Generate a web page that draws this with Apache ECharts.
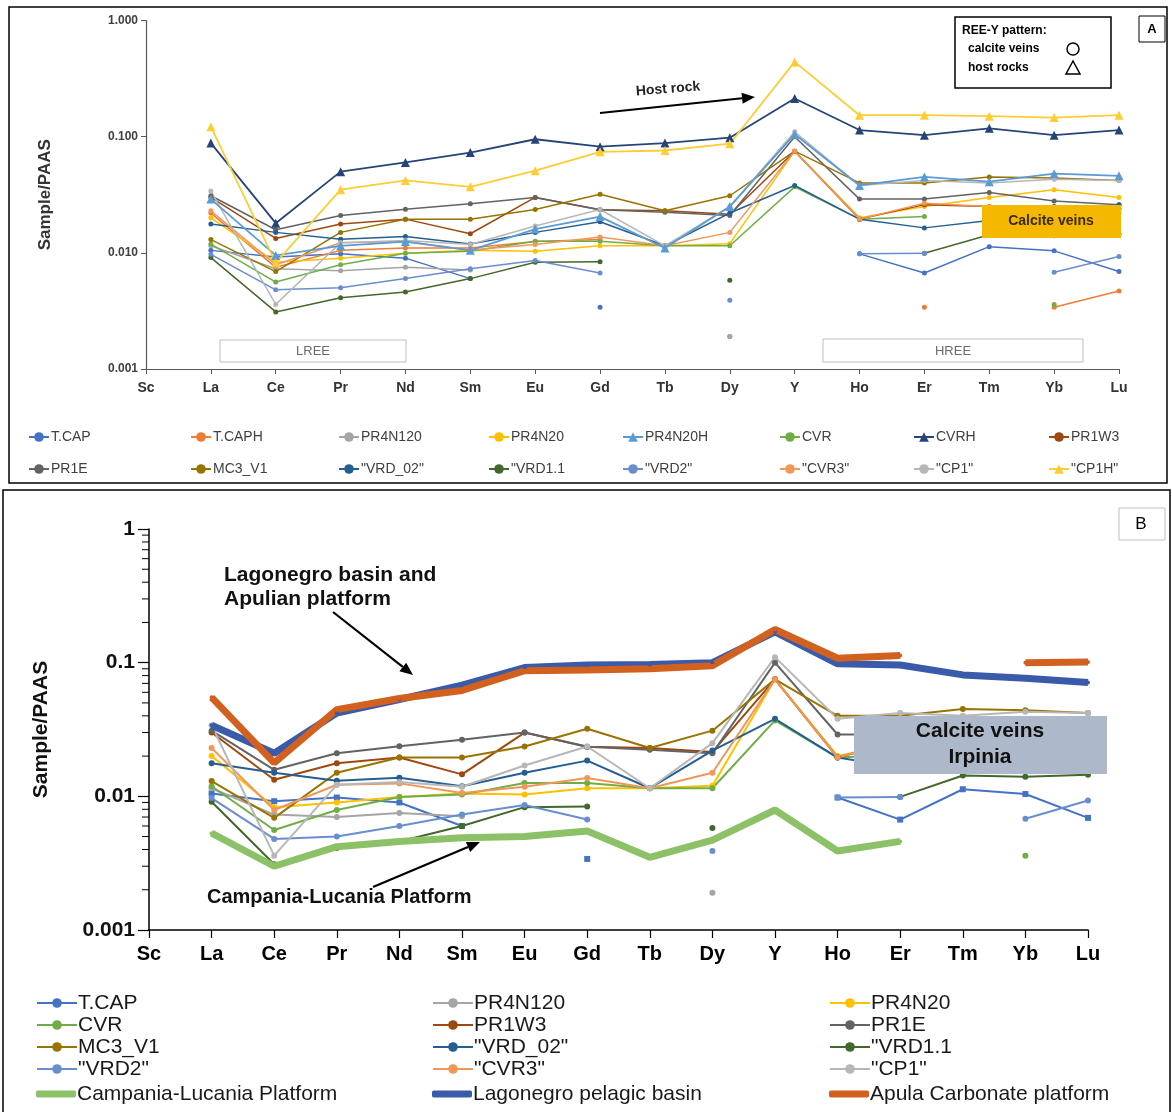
<!DOCTYPE html>
<html><head><meta charset="utf-8">
<script src="https://cdn.jsdelivr.net/npm/echarts@6/dist/echarts.min.js"></script>
<style>html,body{margin:0;padding:0;background:#fff}#c{width:1172px;height:1112px}</style>
</head><body><div id="c"></div><script>
// ---------------- DATA ----------------
const categories = ['Sc','La','Ce','Pr','Nd','Sm','Eu','Gd','Tb','Dy','Y','Ho','Er','Tm','Yb','Lu'];
const yTicksA = ['0.001','0.010','0.100','1.000'];
const yTicksB = ['0.001','0.01','0.1','1'];
const minorTicksB = [0.002,0.003,0.004,0.005,0.006,0.007,0.008,0.009,0.02,0.03,0.04,0.05,0.06,0.07,0.08,0.09,0.2,0.3,0.4,0.5,0.6,0.7,0.8,0.9];

// calcite veins (Sc, La, Ce, Pr, Nd, Sm, Eu, Gd, Tb, Dy, Y, Ho, Er, Tm, Yb, Lu)
const tCap    = [null,0.0105,0.0092,0.0098,0.0090,0.0060,null,0.0034,null,null,null,0.0098,0.0067,0.0113,0.0104,0.0069];
const pr4n120 = [null,0.0115,0.0073,0.0070,0.0075,0.0071,null,null,null,0.0019,null,null,null,null,null,null];
const pr4n20  = [null,0.020,0.0083,0.0090,0.0099,0.0105,0.0103,0.0115,0.0115,0.0120,0.075,0.0200,0.025,0.030,0.035,0.030];
const cvr     = [null,0.0119,0.0056,0.0079,0.0099,0.0103,0.0126,0.0126,0.0115,0.0115,0.037,0.0195,0.0205,null,0.0036,null];
const pr1w3   = [null,0.030,0.0133,0.0177,0.0195,0.0146,0.030,0.0235,0.0230,0.0215,0.075,0.0195,0.026,0.025,0.025,0.024];
const pr1e    = [null,0.031,0.0158,0.021,0.0237,0.0265,0.030,0.0235,0.0223,0.021,0.100,0.029,0.029,0.033,0.028,0.026];
const mc3v1   = [null,0.013,0.0069,0.0150,0.0195,0.0195,0.0236,0.032,0.023,0.031,0.075,0.040,0.040,0.045,0.044,0.042];
const vrd02   = [null,0.0177,0.0150,0.0131,0.0138,0.0119,0.0150,0.0185,0.0115,0.0220,0.038,0.0195,0.0164,0.019,0.020,0.026];
const vrd11   = [null,0.0091,0.0031,0.0041,0.0046,0.0060,0.0083,0.0084,null,0.0058,null,null,0.0099,0.0143,0.0140,0.0145];
const vrd2    = [null,0.0097,0.0048,0.0050,0.0060,0.0073,0.0086,0.0067,null,0.0039,null,0.0098,0.0099,null,0.0068,0.0093];
const cvr3    = [null,0.023,0.0079,0.0122,0.0125,0.0106,0.0118,0.0137,0.0115,0.0150,0.075,0.0195,0.0267,0.025,0.023,0.022];
const cp1     = [null,0.034,0.0036,0.0122,0.0128,0.0118,0.0170,0.0236,0.0115,0.025,0.110,0.038,0.042,0.040,0.043,0.042];
// host rocks (panel A)
const tCapH   = [null,0.022,0.0075,0.0105,0.011,0.011,0.0125,0.013,null,0.0019,null,null,0.0034,null,0.0034,0.0047];
const pr4n20H = [null,0.029,0.0095,0.0115,0.0125,0.0105,0.016,0.0205,0.011,0.025,0.105,0.038,0.045,0.041,0.048,0.046];
const cvrH    = [null,0.088,0.018,0.050,0.060,0.073,0.095,0.082,0.088,0.098,0.213,0.114,0.103,0.118,0.103,0.114];
const cp1H    = [null,0.122,0.0082,0.035,0.042,0.037,0.051,0.074,0.076,0.087,0.44,0.153,0.153,0.150,0.146,0.153];
// reference fields (panel B)
const campania  = [null,0.0053,0.0030,0.0042,0.0046,0.0049,0.0050,0.0055,0.0035,0.0047,0.0079,0.0039,0.0046,null,null,null];
const lagonegro = [null,0.034,0.021,0.042,0.053,0.068,0.092,0.096,0.097,0.100,0.170,0.098,0.096,0.081,0.0765,0.071];
const apula     = [null,0.055,0.0178,0.0445,0.054,0.062,0.087,0.088,0.090,0.095,0.177,0.108,0.113,null,0.100,0.101];

// ---------------- SERIES TABLES ----------------
const seriesA = [
  ['T.CAP', tCap, '#4472C4', 'circle'],
  ['T.CAPH', tCapH, '#ED7D31', 'circle'],
  ['PR4N120', pr4n120, '#A5A5A5', 'circle'],
  ['PR4N20', pr4n20, '#FFC000', 'circle'],
  ['PR4N20H', pr4n20H, '#5B9BD5', 'triangle'],
  ['CVR', cvr, '#70AD47', 'circle'],
  ['CVRH', cvrH, '#264478', 'triangle'],
  ['PR1W3', pr1w3, '#9E480E', 'circle'],
  ['PR1E', pr1e, '#636363', 'circle'],
  ['MC3_V1', mc3v1, '#997300', 'circle'],
  ['"VRD_02"', vrd02, '#255E91', 'circle'],
  ['"VRD1.1', vrd11, '#43682B', 'circle'],
  ['"VRD2"', vrd2, '#698ED0', 'circle'],
  ['"CVR3"', cvr3, '#F1975A', 'circle'],
  ['"CP1"', cp1, '#B7B7B7', 'circle'],
  ['"CP1H"', cp1H, '#FFCD33', 'triangle']
];
const seriesB = [
  ['T.CAP', tCap, '#4472C4', 'rect'],
  ['PR4N120', pr4n120, '#A5A5A5', 'circle'],
  ['PR4N20', pr4n20, '#FFC000', 'circle'],
  ['CVR', cvr, '#70AD47', 'circle'],
  ['PR1W3', pr1w3, '#9E480E', 'circle'],
  ['PR1E', pr1e, '#636363', 'circle'],
  ['MC3_V1', mc3v1, '#997300', 'circle'],
  ['"VRD_02"', vrd02, '#255E91', 'circle'],
  ['"VRD1.1', vrd11, '#43682B', 'circle'],
  ['"VRD2"', vrd2, '#698ED0', 'circle'],
  ['"CVR3"', cvr3, '#F1975A', 'circle'],
  ['"CP1"', cp1, '#B7B7B7', 'circle']
];
const thickB = [
  ['Campania-Lucania Platform', campania, '#8CC168'],
  ['Lagonegro pelagic basin', lagonegro, '#3A5BAA'],
  ['Apula Carbonate platform', apula, '#D2601F']
];

const sans = "'Liberation Sans',Arial,sans-serif";

const series = [];
seriesA.forEach(([name, data, color, sym]) => {
  const host = sym === 'triangle';
  series.push({type:'line', name, data, xAxisIndex:0, yAxisIndex:0, symbol:sym, symbolSize: host?9:5,
    showAllSymbol:true, connectNulls:false, animation:false,
    lineStyle:{color, width: host?1.8:1.5}, itemStyle:{color}, z: host?4:3});
});
seriesB.forEach(([name, data, color, sym]) => {
  series.push({type:'line', name, data, xAxisIndex:1, yAxisIndex:1, symbol:sym, symbolSize:6,
    showAllSymbol:true, connectNulls:false, animation:false,
    lineStyle:{color, width:2}, itemStyle:{color}, z:3});
});
thickB.forEach(([name, data, color]) => {
  series.push({type:'line', name, data, xAxisIndex:1, yAxisIndex:1, symbol:'circle', symbolSize:4,
    showAllSymbol:true, connectNulls:false, animation:false,
    lineStyle:{color, width:7}, itemStyle:{color}, z:4});
});
series.push({type:'custom', xAxisIndex:1, yAxisIndex:1, silent:true, animation:false, clip:false,
  data: minorTicksB.map(v => [0, v]),
  renderItem: (p, api) => { const c = api.coord([api.value(0), api.value(1)]);
    return {type:'line', shape:{x1:c[0]-7, y1:c[1], x2:c[0], y2:c[1]}, style:{stroke:'#000', lineWidth:1}}; }
});

// ---------------- LEGENDS ----------------
const legends = [];
const colXA = [28, 190, 338, 488, 622, 779, 913, 1048];
for (let i = 0; i < 8; i++) {
  legends.push({data:[seriesA[i][0], seriesA[i+8][0]], orient:'vertical', left:colXA[i], top:429, padding:0,
    itemWidth:20, itemHeight:12, itemGap:16, selectedMode:false,
    textStyle:{fontFamily:sans, fontSize:14, lineHeight:16, color:'#404040', padding:[0,0,0,-3]}});
}
const legendRowsB = [
  ['T.CAP','PR4N120','PR4N20'],
  ['CVR','PR1W3','PR1E'],
  ['MC3_V1','"VRD_02"','"VRD1.1'],
  ['"VRD2"','"CVR3"','"CP1"'],
  ['Campania-Lucania Platform','Lagonegro pelagic basin','Apula Carbonate platform']
];
const colXB = [36, 432, 829];
legendRowsB.forEach((row, r) => row.forEach((name, c) => {
  const thick = r === 4;
  legends.push({data: thick ? [{name, icon:'roundRect'}] : [name], orient:'horizontal',
    left:colXB[c], top:992 + r*22 + (thick ? 3 : 0), padding:0,
    itemWidth:40, itemHeight: thick ? 7 : 12, selectedMode:false,
    textStyle:{fontFamily:sans, fontSize:21, lineHeight:22, color:'#1a1a1a', padding:[0,0,0,-4]}});
}));

// ---------------- GRAPHICS ----------------
function arrow(x1, y1, x2, y2, w) {
  const a = Math.atan2(y2-y1, x2-x1), L = 13, h = 5.5;
  const bx = x2 - L*Math.cos(a), by = y2 - L*Math.sin(a);
  return [
    {type:'line', shape:{x1, y1, x2:bx, y2:by}, style:{stroke:'#000', lineWidth:w}, z:50},
    {type:'polygon', shape:{points:[[x2,y2],[bx - h*Math.sin(a), by + h*Math.cos(a)],[bx + h*Math.sin(a), by - h*Math.cos(a)]]}, style:{fill:'#000'}, z:50}
  ];
}
const graphics = [
  {type:'rect', shape:{x:9, y:7, width:1158, height:476}, style:{fill:null, stroke:'#000', lineWidth:1.5}, z:60},
  {type:'rect', shape:{x:3, y:490, width:1167, height:630}, style:{fill:null, stroke:'#000', lineWidth:1.5}, z:60},
  // panel A annotations
  {type:'rect', shape:{x:1139, y:16, width:26, height:26}, style:{fill:'#fff', stroke:'#000', lineWidth:1}, z:50},
  {type:'text', x:1152, y:29, style:{text:'A', font:'bold 13px '+sans, fill:'#000', align:'center', verticalAlign:'middle'}, z:51},
  {type:'rect', shape:{x:955, y:17, width:156, height:71}, style:{fill:'#fff', stroke:'#000', lineWidth:1.5}, z:50},
  {type:'text', x:962, y:31, style:{text:'REE-Y pattern:', font:'bold 12px '+sans, fill:'#000', verticalAlign:'middle'}, z:51},
  {type:'text', x:968, y:49, style:{text:'calcite veins', font:'bold 12px '+sans, fill:'#000', verticalAlign:'middle'}, z:51},
  {type:'text', x:968, y:68, style:{text:'host rocks', font:'bold 12px '+sans, fill:'#000', verticalAlign:'middle'}, z:51},
  {type:'circle', shape:{cx:1073, cy:49, r:6}, style:{fill:null, stroke:'#000', lineWidth:1.5}, z:51},
  {type:'polygon', shape:{points:[[1073,61],[1066,74],[1080,74]]}, style:{fill:null, stroke:'#000', lineWidth:1.5}, z:51},
  {type:'text', x:668, y:89, rotation:0.08, style:{text:'Host rock', font:'bold 14px '+sans, fill:'#222', align:'center', verticalAlign:'middle'}, z:51},
  ...arrow(600, 113, 755, 97, 2),
  {type:'rect', shape:{x:982, y:205, width:139, height:33}, style:{fill:'#F5B800', stroke:null}, z:50},
  {type:'text', x:1051, y:221, style:{text:'Calcite veins', font:'bold 14px '+sans, fill:'#3a2a00', align:'center', verticalAlign:'middle'}, z:51},
  {type:'rect', shape:{x:220, y:340, width:186, height:22}, style:{fill:'#fff', stroke:'#BFBFBF', lineWidth:1}, z:20},
  {type:'text', x:313, y:351, style:{text:'LREE', font:'13px '+sans, fill:'#6b6b6b', align:'center', verticalAlign:'middle'}, z:21},
  {type:'rect', shape:{x:823, y:339, width:260, height:23}, style:{fill:'#fff', stroke:'#BFBFBF', lineWidth:1}, z:20},
  {type:'text', x:953, y:351, style:{text:'HREE', font:'13px '+sans, fill:'#6b6b6b', align:'center', verticalAlign:'middle'}, z:21},
  // panel B annotations
  {type:'rect', shape:{x:1119, y:508, width:46, height:32}, style:{fill:'#fff', stroke:'#BFBFBF', lineWidth:1}, z:50},
  {type:'text', x:1141, y:524, style:{text:'B', font:'17px '+sans, fill:'#000', align:'center', verticalAlign:'middle'}, z:51},
  {type:'text', x:224, y:575, style:{text:'Lagonegro basin and', font:'bold 21px '+sans, fill:'#111', verticalAlign:'middle'}, z:51},
  {type:'text', x:224, y:599, style:{text:'Apulian platform', font:'bold 21px '+sans, fill:'#111', verticalAlign:'middle'}, z:51},
  ...arrow(333, 612, 413, 675, 2.2),
  {type:'text', x:207, y:897, style:{text:'Campania-Lucania Platform', font:'bold 20px '+sans, fill:'#111', verticalAlign:'middle'}, z:51},
  ...arrow(373, 887, 480, 842, 2.2),
  {type:'rect', shape:{x:854, y:716, width:253, height:58}, style:{fill:'#ADB9CA', stroke:null}, z:50},
  {type:'text', x:980, y:731, style:{text:'Calcite veins', font:'bold 21px '+sans, fill:'#111', align:'center', verticalAlign:'middle'}, z:51},
  {type:'text', x:980, y:757, style:{text:'Irpinia', font:'bold 21px '+sans, fill:'#111', align:'center', verticalAlign:'middle'}, z:51}
];

// ---------------- OPTION ----------------
const labelA = v => { const i = Math.round(Math.log10(v)) + 3; return yTicksA[i] || ''; };
const labelB = v => { const i = Math.round(Math.log10(v)) + 3; return yTicksB[i] || ''; };
const option = {
  backgroundColor:'#fff',
  animation:false,
  grid:[
    {left:146, top:20.5, width:973, height:348.5, containLabel:false, outerBoundsMode:'none'},
    {left:149, top:529, width:939, height:401, containLabel:false, outerBoundsMode:'none'}
  ],
  xAxis:[
    {type:'category', gridIndex:0, data:categories, boundaryGap:false,
      axisLine:{lineStyle:{color:'#595959', width:1.2}}, axisTick:{length:5, lineStyle:{color:'#595959'}},
      axisLabel:{interval:0, margin:12, fontFamily:sans, fontWeight:'bold', fontSize:14, color:'#333'}},
    {type:'category', gridIndex:1, data:categories, boundaryGap:false,
      axisLine:{lineStyle:{color:'#000', width:1.5}}, axisTick:{length:8, lineStyle:{color:'#000', width:1.2}},
      axisLabel:{interval:0, margin:14, fontFamily:sans, fontWeight:'bold', fontSize:20, color:'#000'}}
  ],
  yAxis:[
    {type:'log', logBase:10, gridIndex:0, min:0.001, max:1,
      name:'Sample/PAAS', nameLocation:'middle', nameGap:92, nameRotate:90,
      nameTextStyle:{fontFamily:sans, fontWeight:'bold', fontSize:17, color:'#333'},
      axisLine:{show:true, lineStyle:{color:'#595959', width:1.2}}, axisTick:{show:true, length:5, lineStyle:{color:'#595959'}},
      splitLine:{show:false},
      axisLabel:{formatter:labelA, fontFamily:sans, fontWeight:'bold', fontSize:12, color:'#404040', margin:8}},
    {type:'log', logBase:10, gridIndex:1, min:0.001, max:1,
      name:'Sample/PAAS', nameLocation:'middle', nameGap:97, nameRotate:90,
      nameTextStyle:{fontFamily:sans, fontWeight:'bold', fontSize:21, color:'#111'},
      axisLine:{show:true, lineStyle:{color:'#000', width:1.5}}, axisTick:{show:true, length:11, lineStyle:{color:'#000', width:1.2}},
      splitLine:{show:false},
      axisLabel:{formatter:labelB, fontFamily:sans, fontWeight:'bold', fontSize:21, color:'#111', margin:14}}
  ],
  legend:legends,
  graphic:graphics,
  series
};
const chart = echarts.init(document.getElementById('c'), null, {renderer:'canvas'});
chart.setOption(option);
</script></body></html>
